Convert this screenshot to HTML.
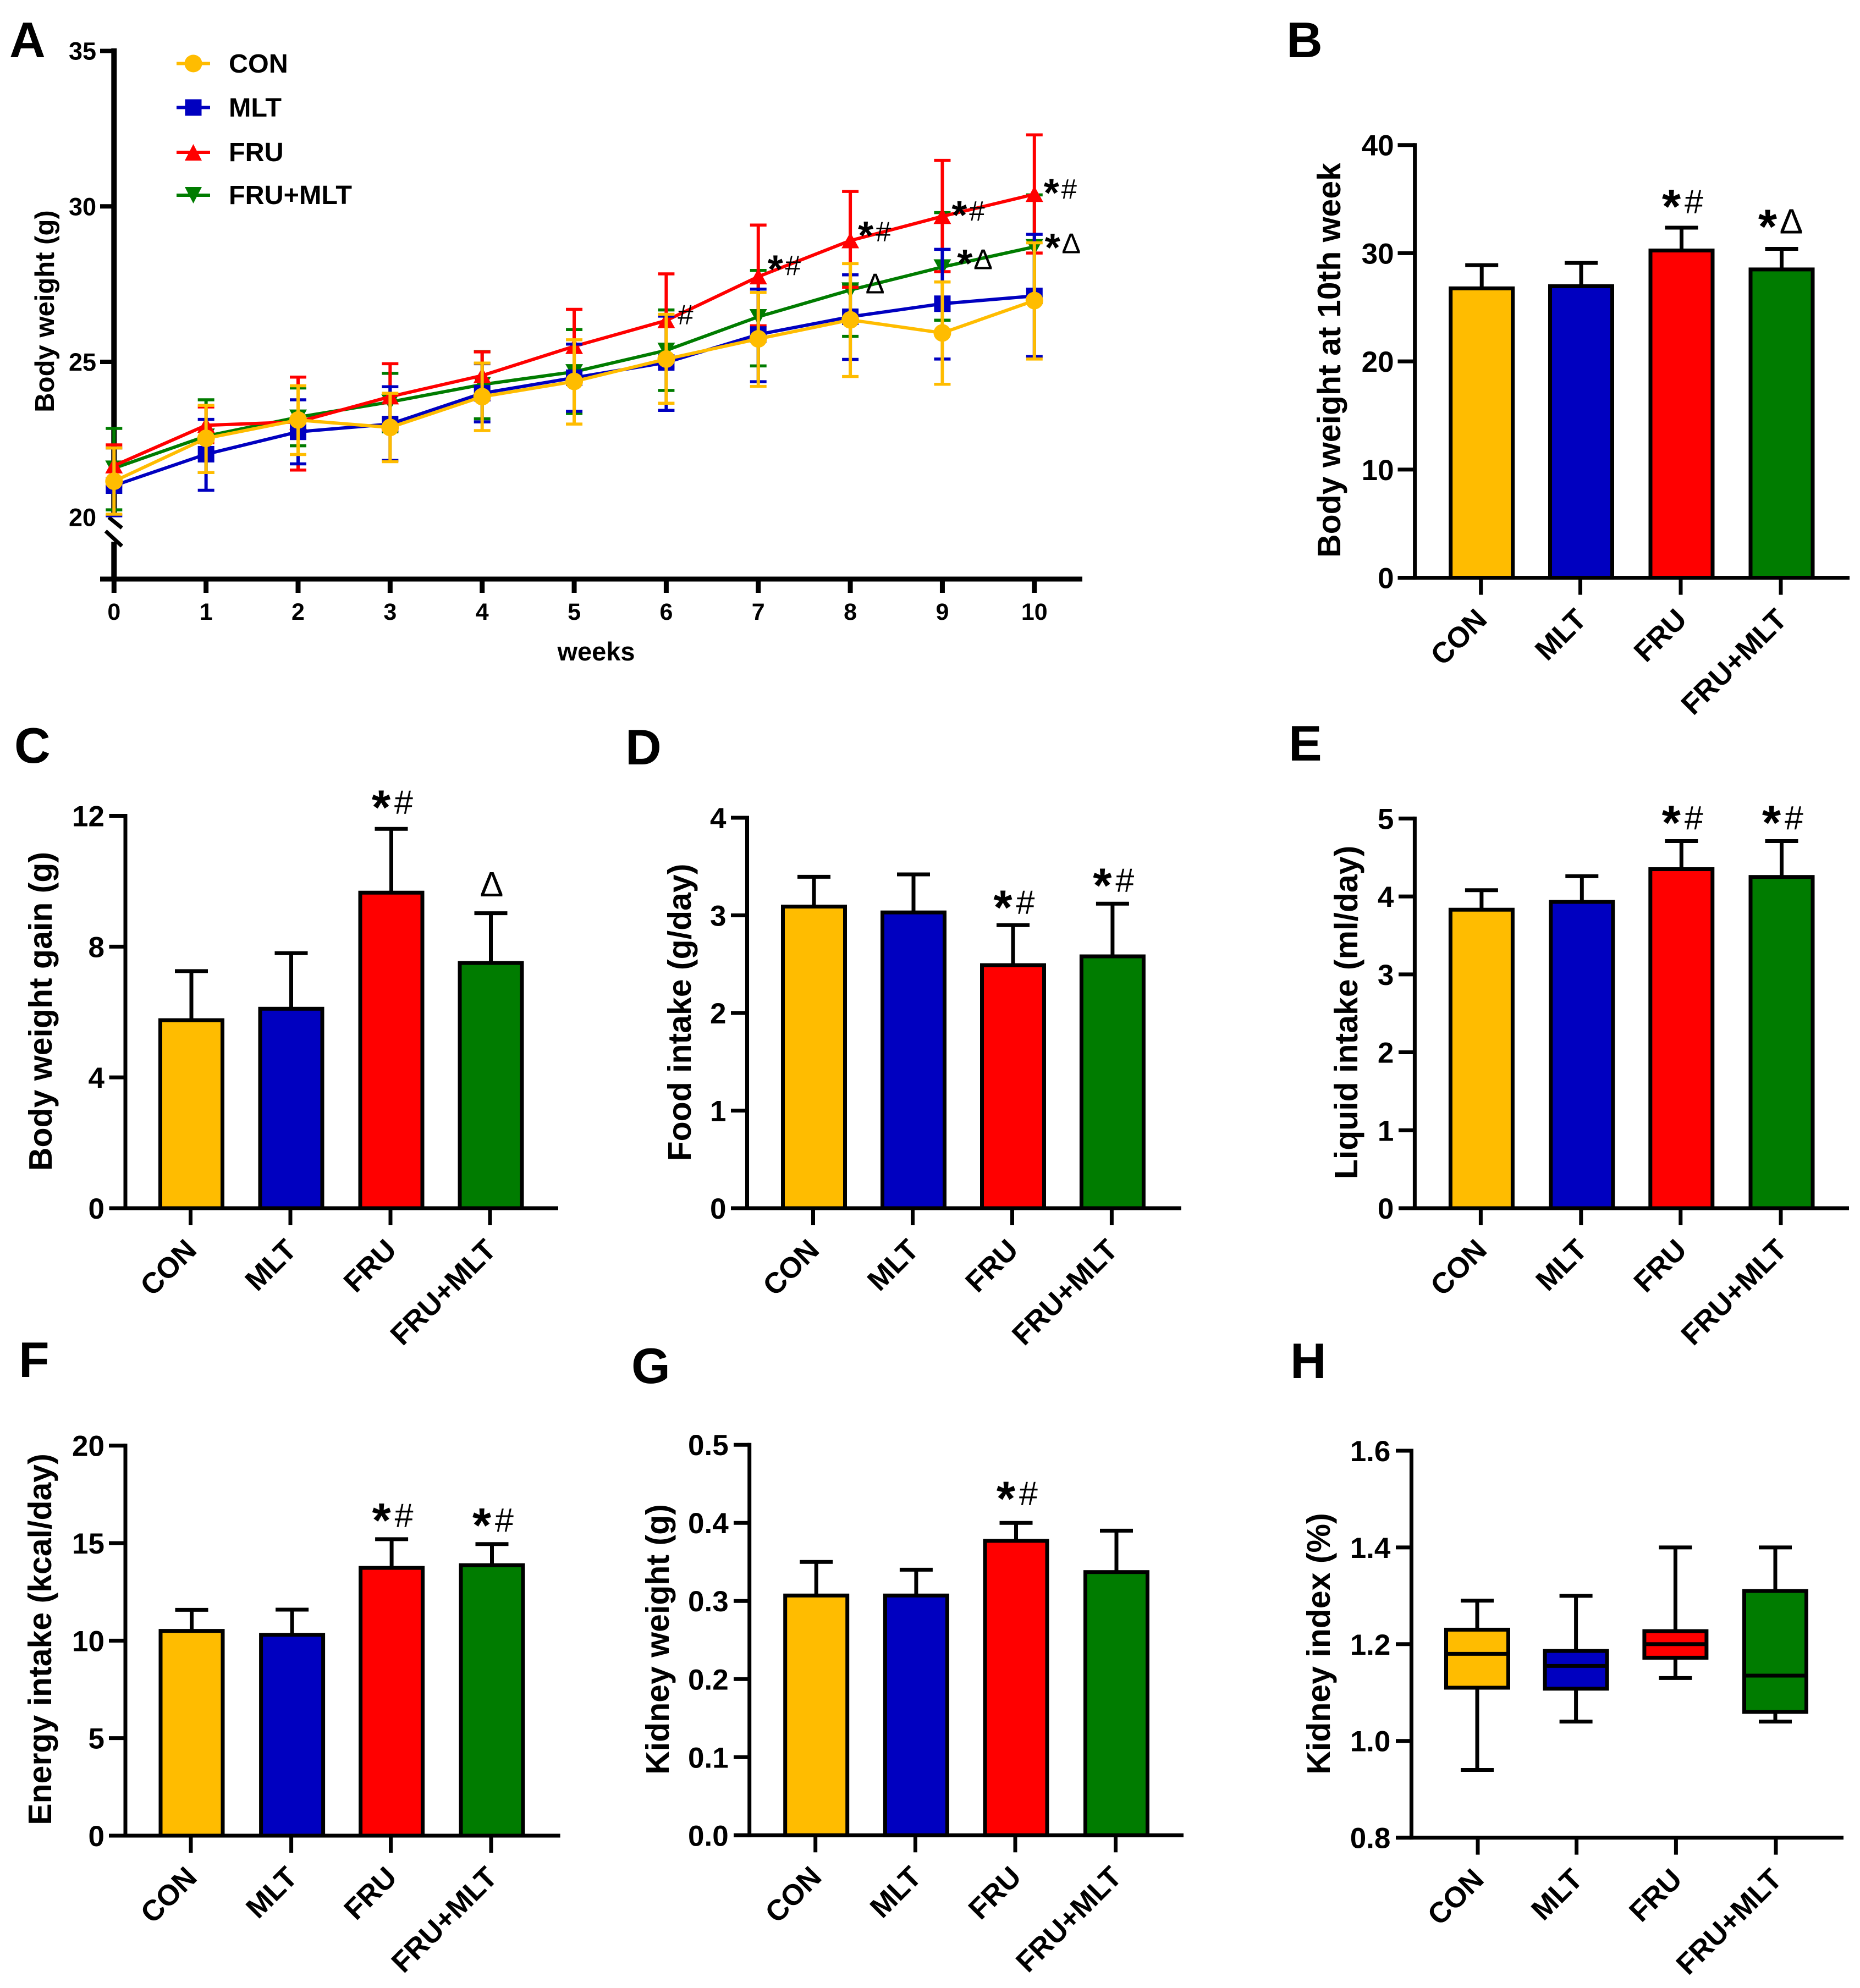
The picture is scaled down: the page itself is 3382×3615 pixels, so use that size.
<!DOCTYPE html>
<html lang="en">
<head>
<meta charset="utf-8">
<title>Body weight, intake and kidney measures by group</title>
<style>
html,body{margin:0;padding:0;background:#fff;}
svg{display:block;font-family:"Liberation Sans",Arial,sans-serif;}
.letter{font-size:91px;font-weight:700;fill:#000;}
.ytitle{font-size:59px;font-weight:700;fill:#000;text-anchor:middle;}
.atitle{font-size:49px;font-weight:700;fill:#000;text-anchor:middle;}
.xtitle{font-size:47px;font-weight:700;fill:#000;text-anchor:middle;}
.legend{font-size:48.5px;font-weight:700;fill:#000;}
</style>
</head>
<body>
<svg id="fig" xmlns="http://www.w3.org/2000/svg" width="3382" height="3615" viewBox="0 0 3382 3615">
<rect x="0" y="0" width="3382" height="3615" fill="#fff"/>
<text class="letter" x="17" y="104">A</text>
<text class="letter" x="2339" y="104">B</text>
<text class="letter" x="26" y="1387">C</text>
<text class="letter" x="1137" y="1390">D</text>
<text class="letter" x="2343" y="1383">E</text>
<text class="letter" x="34" y="2504">F</text>
<text class="letter" x="1148" y="2515">G</text>
<text class="letter" x="2346" y="2506">H</text>

<text class="atitle" transform="translate(98,566) rotate(-90)">Body weight (g)</text>
<text class="xtitle" x="1084" y="1201">weeks</text>
<text class="ytitle" transform="translate(2437,655) rotate(-90)">Body weight at 10th week</text>
<text class="ytitle" transform="translate(94,1839) rotate(-90)">Body weight gain (g)</text>
<text class="ytitle" transform="translate(1256,1841) rotate(-90)">Food intake (g/day)</text>
<text class="ytitle" transform="translate(2468,1841) rotate(-90)">Liquid intake (ml/day)</text>
<text class="ytitle" transform="translate(93,2981) rotate(-90)">Energy intake (kcal/day)</text>
<text class="ytitle" transform="translate(1216,2981) rotate(-90)">Kidney weight (g)</text>
<text class="ytitle" transform="translate(2418,2989) rotate(-90)">Kidney index (%)</text>

<g>
  <g>
    <line x1="321" x2="382" y1="115.5" y2="115.5" stroke="#FFBC00" stroke-width="6"/>
    <circle cx="351.5" cy="115.5" r="16" fill="#FFBC00"/>
    <text class="legend" x="416" y="132">CON</text>
  </g>
  <g>
    <line x1="321" x2="382" y1="195.5" y2="195.5" stroke="#0000C0" stroke-width="6"/>
    <rect x="336.5" y="180.5" width="30" height="30" fill="#0000C0"/>
    <text class="legend" x="416" y="212">MLT</text>
  </g>
  <g>
    <line x1="321" x2="382" y1="277" y2="277" stroke="#FF0000" stroke-width="6"/>
    <polygon points="351.5,262 367,292 336,292" fill="#FF0000"/>
    <text class="legend" x="416" y="293">FRU</text>
  </g>
  <g>
    <line x1="321" x2="382" y1="355" y2="355" stroke="#007C00" stroke-width="6"/>
    <polygon points="336,340 367,340 351.5,370" fill="#007C00"/>
    <text class="legend" x="416" y="371">FRU+MLT</text>
  </g>
</g>
</svg>

<script>
// ---------- shared data ----------
const categories = ['CON', 'MLT', 'FRU', 'FRU+MLT'];
const groupColors = ['#FFBC00', '#0000C0', '#FF0000', '#007C00'];

// ---------- panel A: weekly body weight ----------
const weeks = [0, 1, 2, 3, 4, 5, 6, 7, 8, 9, 10];
const aYTicks = [35, 30, 25];
const aBreakTickLabel = 20;

const conMean  = [21.16, 22.54, 23.13, 22.89, 23.88, 24.37, 25.09, 25.74, 26.35, 25.93, 26.97];
const conUpper = [22.23, 23.60, 24.23, 23.99, 24.96, 25.71, 26.53, 27.23, 28.16, 27.57, 28.83];
const conLower = [20.10, 21.44, 22.02, 21.79, 22.79, 23.00, 23.67, 24.21, 24.53, 24.28, 25.09];

const mltMean  = [21.02, 22.03, 22.75, 23.00, 23.99, 24.49, 24.98, 25.88, 26.45, 26.87, 27.12];
const mltUpper = [22.23, 23.15, 23.78, 24.20, 24.94, 25.57, 26.47, 27.34, 27.80, 28.62, 29.10];
const mltLower = [20.05, 20.87, 21.72, 21.83, 23.07, 23.41, 23.44, 24.36, 25.08, 25.09, 25.17];

const fruMean  = [21.66, 22.96, 23.07, 23.88, 24.56, 25.50, 26.33, 27.74, 28.90, 29.68, 30.39];
const fruUpper = [22.33, 23.55, 24.51, 24.94, 25.32, 26.69, 27.83, 29.40, 30.48, 31.48, 32.30];
const fruLower = [21.00, 22.40, 21.52, 22.80, 23.78, 24.30, 24.83, 26.16, 27.40, 27.90, 28.50];

const fmlMean  = [21.58, 22.61, 23.22, 23.71, 24.27, 24.68, 25.37, 26.45, 27.31, 28.05, 28.70];
const fmlUpper = [22.86, 23.78, 24.16, 24.63, 25.33, 26.04, 26.67, 27.94, 27.50, 29.80, 30.37];
const fmlLower = [20.24, 21.44, 22.30, 22.75, 23.17, 23.34, 24.08, 24.87, 25.82, 26.34, 27.03];

// significance marks beside panel A points: week, group index, label
const aMarkWeeks  = [6, 7, 8, 9, 10, 8, 9, 10];
const aMarkGroups = [2, 2, 2, 2, 2, 3, 3, 3];
const aMarkLabels = ['#', '*#', '*#', '*#', '*#', 'Δ', '*Δ', '*Δ'];

// ---------- bar panels ----------
const bTicks = [0, 10, 20, 30, 40];
const bValues = [26.75, 26.95, 30.25, 28.5];
const bErrors = [2.15, 2.15, 2.11, 1.9];
const bMarks = ['', '', '*#', '*Δ'];

const cTicks = [0, 4, 8, 12];
const cValues = [5.75, 6.1, 9.65, 7.5];
const cErrors = [1.5, 1.7, 1.95, 1.52];
const cMarks = ['', '', '*#', 'Δ'];

const dTicks = [0, 1, 2, 3, 4];
const dValues = [3.09, 3.03, 2.49, 2.58];
const dErrors = [0.305, 0.39, 0.41, 0.54];
const dMarks = ['', '', '*#', '*#'];

const eTicks = [0, 1, 2, 3, 4, 5];
const eValues = [3.83, 3.93, 4.35, 4.25];
const eErrors = [0.25, 0.33, 0.36, 0.46];
const eMarks = ['', '', '*#', '*#'];

const fTicks = [0, 5, 10, 15, 20];
const fValues = [10.5, 10.3, 13.73, 13.87];
const fErrors = [1.08, 1.29, 1.47, 1.08];
const fMarks = ['', '', '*#', '*#'];

const gTicks = ['0.0', '0.1', '0.2', '0.3', '0.4', '0.5'];
const gValues = [0.307, 0.307, 0.377, 0.337];
const gErrors = [0.043, 0.033, 0.023, 0.053];
const gMarks = ['', '', '*#', ''];

// ---------- panel H: box plot ----------
const hTicks = ['0.8', '1.0', '1.2', '1.4', '1.6'];
const hMin = [0.94, 1.04, 1.13, 1.04];
const hQ1 = [1.11, 1.108, 1.172, 1.06];
const hMedian = [1.18, 1.155, 1.2, 1.135];
const hQ3 = [1.23, 1.186, 1.227, 1.31];
const hMax = [1.29, 1.30, 1.40, 1.40];

// ---------- drawing helpers ----------
const NS = 'http://www.w3.org/2000/svg';
const root = document.getElementById('fig');

function add(parent, tag, attrs, name, text) {
  const el = document.createElementNS(NS, tag);
  for (const k in attrs) el.setAttribute(k, attrs[k]);
  
  
  if (text !== undefined) el.textContent = text;
  parent.appendChild(el);
  return el;
}

function line(parent, x1, y1, x2, y2, w, color, name) {
  return add(parent, 'line', {x1: x1, y1: y1, x2: x2, y2: y2, stroke: color, 'stroke-width': w}, name);
}

function glyphs(parent, label, xs, cy, sizes, name) {
  // sizes: star, hash, delta font-size
  const chars = Array.from(label);
  chars.forEach(function (c, i) {
    const x = xs[i];
    if (c === '*') {
      add(parent, 'text', {x: x, y: cy + 0.45 * sizes[0], 'text-anchor': 'middle', 'font-size': sizes[0], 'font-weight': 700, fill: '#000'}, name + '-star', '*');
    } else if (c === '#') {
      add(parent, 'text', {x: x, y: cy + 0.35 * sizes[1], 'text-anchor': 'middle', 'font-size': sizes[1], fill: '#000'}, name + '-hash', '#');
    } else {
      add(parent, 'text', {x: x, y: cy + 0.345 * sizes[2], 'text-anchor': 'middle', 'font-size': sizes[2], fill: '#000'}, name + '-delta', 'Δ');
    }
  });
}

function categoryAxis(g, P, centers) {
  centers.forEach(function (cx, i) {
    line(g, cx, P.y0, cx, P.y0 + 31, 7, '#000', 'x-tick-' + categories[i].toLowerCase());
    const tx = cx + 14, ty = P.y0 + 79;
    add(g, 'text', {x: tx, y: ty, transform: 'rotate(-45 ' + tx + ' ' + ty + ')', 'text-anchor': 'end', 'font-size': 53, 'font-weight': 700, fill: '#000'}, 'x-tick-label-' + categories[i].toLowerCase(), categories[i]);
  });
}

function yAxis(g, P, ticks, yOf) {
  line(g, P.ax, P.yTop - 3.5, P.ax, P.y0 + 3.5, 7, '#000', 'y-axis-line');
  line(g, P.left, P.y0, P.right, P.y0, 7, '#000', 'x-axis-line');
  ticks.forEach(function (t) {
    const y = yOf(parseFloat(t));
    line(g, P.left, y, P.ax, y, 7, '#000', 'y-tick-' + t);
    add(g, 'text', {x: P.ax - 38, y: y + 19, 'text-anchor': 'end', 'font-size': 53, 'font-weight': 700, fill: '#000'}, 'y-tick-label-' + t, String(t));
  });
}

function barPanel(id, P, ticks, values, errors, marks) {
  const g = add(root, 'g', {}, 'panel-' + id + '-bar-chart');
  const vMax = parseFloat(ticks[ticks.length - 1]);
  const yOf = function (v) { return P.y0 - (v / vMax) * (P.y0 - P.yTop); };
  values.forEach(function (v, i) {
    const cx = P.centers[i] + 1.5;
    const top = yOf(v + errors[i]);
    line(g, cx, yOf(v), cx, top, 7, '#000', 'error-stem-' + categories[i].toLowerCase());
    line(g, cx - 30, top, cx + 30, top, 7, '#000', 'error-cap-' + categories[i].toLowerCase());
    add(g, 'rect', {x: cx - 56.5, y: yOf(v), width: 113, height: P.y0 - yOf(v), fill: groupColors[i], stroke: '#000', 'stroke-width': 7}, 'bar-' + categories[i].toLowerCase());
    if (marks[i]) {
      const two = Array.from(marks[i]).length === 2;
      const xs = two
        ? (marks[i] === '*Δ' ? [P.centers[i] - 24, P.centers[i] + 19] : [P.centers[i] - 17, P.centers[i] + 24])
        : [P.centers[i] + 3];
      glyphs(g, marks[i], xs, top - P.markGap[i], [88, 61, 64], 'significance-' + categories[i].toLowerCase());
    }
  });
  yAxis(g, P, ticks, yOf);
  categoryAxis(g, P, P.centers);
}

function boxPanel(id, P) {
  const g = add(root, 'g', {}, 'panel-' + id + '-box-plot');
  const lo = parseFloat(hTicks[0]), hi = parseFloat(hTicks[hTicks.length - 1]);
  const yOf = function (v) { return P.y0 - ((v - lo) / (hi - lo)) * (P.y0 - P.yTop); };
  categories.forEach(function (c, i) {
    const cx = P.centers[i] - 1, key = c.toLowerCase();
    line(g, cx, yOf(hMin[i]), cx, yOf(hMax[i]), 7, '#000', 'whisker-' + key);
    line(g, cx - 30, yOf(hMax[i]), cx + 30, yOf(hMax[i]), 7, '#000', 'whisker-cap-max-' + key);
    line(g, cx - 30, yOf(hMin[i]), cx + 30, yOf(hMin[i]), 7, '#000', 'whisker-cap-min-' + key);
    add(g, 'rect', {x: cx - 56.5, y: yOf(hQ3[i]), width: 113, height: yOf(hQ1[i]) - yOf(hQ3[i]), fill: groupColors[i], stroke: '#000', 'stroke-width': 7}, 'box-' + key);
    line(g, cx - 56.5, yOf(hMedian[i]), cx + 56.5, yOf(hMedian[i]), 7, '#000', 'median-' + key);
  });
  yAxis(g, P, hTicks, yOf);
  categoryAxis(g, P, P.centers);
}

// ---------- panel A ----------
(function () {
  const g = add(root, 'g', {}, 'panel-a-line-chart');
  const xOf = function (w) { return 207.3 + w * 167.35; };
  const yOf = function (v) { return 940.7 - (v - 20) * 56.54; };

  // axes
  line(g, 207.3, 92.5 - 4.5, 207.3, 940, 10, '#000', 'y-axis-upper-segment');
  line(g, 207.3, 985, 207.3, 1053, 10, '#000', 'y-axis-lower-segment');
  line(g, 197.7, 940.7, 221.7, 960, 7, '#000', 'axis-break-upper');
  line(g, 192, 965.7, 221.7, 993, 7, '#000', 'axis-break-lower');
  line(g, 182, 1053, 1968, 1053, 9, '#000', 'x-axis-line');
  aYTicks.forEach(function (t) {
    line(g, 182, yOf(t), 207, yOf(t), 8, '#000', 'y-tick-' + t);
    add(g, 'text', {x: 175, y: yOf(t) + 16, 'text-anchor': 'end', 'font-size': 45, 'font-weight': 700, fill: '#000'}, 'y-tick-label-' + t, String(t));
  });
  add(g, 'text', {x: 175, y: yOf(aBreakTickLabel) + 16, 'text-anchor': 'end', 'font-size': 45, 'font-weight': 700, fill: '#000'}, 'y-tick-label-20', String(aBreakTickLabel));
  weeks.forEach(function (w) {
    line(g, xOf(w), 1053, xOf(w), 1078, 9, '#000', 'x-tick-' + w);
    add(g, 'text', {x: xOf(w), y: 1127, 'text-anchor': 'middle', 'font-size': 43, 'font-weight': 700, fill: '#000'}, 'x-tick-label-' + w, String(w));
  });

  // series back to front
  const series = [
    {key: 'fru-mlt', color: groupColors[3], mean: fmlMean, up: fmlUpper, lo: fmlLower, shape: 'down'},
    {key: 'fru', color: groupColors[2], mean: fruMean, up: fruUpper, lo: fruLower, shape: 'up'},
    {key: 'mlt', color: groupColors[1], mean: mltMean, up: mltUpper, lo: mltLower, shape: 'square'},
    {key: 'con', color: groupColors[0], mean: conMean, up: conUpper, lo: conLower, shape: 'circle'}
  ];
  series.forEach(function (s) {
    const sg = add(g, 'g', {}, 'series-' + s.key);
    weeks.forEach(function (w, i) {
      const x = xOf(w);
      line(sg, x, yOf(s.up[i]), x, yOf(s.lo[i]), 6, s.color, 'error-bar-' + s.key + '-week-' + w);
      line(sg, x - 15, yOf(s.up[i]), x + 15, yOf(s.up[i]), 5.5, s.color, 'error-cap-upper-' + s.key + '-week-' + w);
      line(sg, x - 15, yOf(s.lo[i]), x + 15, yOf(s.lo[i]), 5.5, s.color, 'error-cap-lower-' + s.key + '-week-' + w);
    });
    const pts = weeks.map(function (w, i) { return xOf(w) + ',' + yOf(s.mean[i]); }).join(' ');
    add(sg, 'polyline', {points: pts, fill: 'none', stroke: s.color, 'stroke-width': 6, 'stroke-linejoin': 'round'}, 'line-' + s.key);
    weeks.forEach(function (w, i) {
      const x = xOf(w), y = yOf(s.mean[i]);
      const nm = 'point-' + s.key + '-week-' + w;
      if (s.shape === 'circle') add(sg, 'circle', {cx: x, cy: y, r: 16, fill: s.color}, nm);
      if (s.shape === 'square') add(sg, 'rect', {x: x - 15, y: y - 15, width: 30, height: 30, fill: s.color}, nm);
      if (s.shape === 'up') add(sg, 'polygon', {points: x + ',' + (y - 15) + ' ' + (x + 16) + ',' + (y + 14) + ' ' + (x - 16) + ',' + (y + 14), fill: s.color}, nm);
      if (s.shape === 'down') add(sg, 'polygon', {points: (x - 16) + ',' + (y - 14) + ' ' + (x + 16) + ',' + (y - 14) + ' ' + x + ',' + (y + 15), fill: s.color}, nm);
    });
  });

  // significance marks
  const groupMeans = [conMean, mltMean, fruMean, fmlMean];
  aMarkWeeks.forEach(function (w, i) {
    const label = aMarkLabels[i];
    const gi = aMarkGroups[i];
    const x = xOf(w), y = yOf(groupMeans[gi][w]);
    let dx1 = 31, dx2 = 63, dy = -10;
    if (gi === 2 && w === 8) { dx1 = 28; dx2 = 60; dy = -17; }
    if (gi === 2 && w === 7) { dy = -21; }
    if (gi === 2 && w === 6) { dx1 = 35; dy = -11; }
    if (gi === 3 && w === 10) { dx1 = 33; dx2 = 67; dy = -6; }
    if (gi === 3 && w === 9) { dx1 = 41; dx2 = 74; dy = -14; }
    if (gi === 3 && w === 8) { dx1 = 45; dy = -12; }
    glyphs(g, label, [x + dx1, x + dx2], y + dy, [72, 51, 52], 'significance-week-' + w + '-' + gi);
  });
})();

// ---------- bar panels ----------
barPanel('b', {ax: 2572.6, left: 2541.5, right: 3363, y0: 1050.6, yTop: 263.7, centers: [2692.7, 2873.5, 3056, 3238], markGap: [0, 0, 48, 50]}, bTicks, bValues, bErrors, bMarks);
barPanel('c', {ax: 228, left: 198.5, right: 1015, y0: 2197, yTop: 1483.5, centers: [346.5, 528, 710, 891], markGap: [0, 0, 49, 53]}, cTicks, cValues, cErrors, cMarks);
barPanel('d', {ax: 1358.5, left: 1329, right: 2147.7, y0: 2197, yTop: 1487, centers: [1478.5, 1659.5, 1840.5, 2021.4], markGap: [0, 0, 42, 43]}, dTicks, dValues, dErrors, dMarks);
barPanel('e', {ax: 2572.4, left: 2543, right: 3362, y0: 2197, yTop: 1488.4, centers: [2692.4, 2874.8, 3055.8, 3238], markGap: [0, 0, 43, 43]}, eTicks, eValues, eErrors, eMarks);
barPanel('f', {ax: 228, left: 198, right: 1018.6, y0: 3338, yTop: 2628.7, centers: [347, 529.6, 710.6, 893], markGap: [0, 0, 44, 44]}, fTicks, fValues, fErrors, fMarks);
barPanel('g', {ax: 1362.7, left: 1334, right: 2152, y0: 3337.3, yTop: 2627.2, centers: [1482.7, 1664.4, 1846, 2028.5], markGap: [0, 0, 54, 0]}, gTicks, gValues, gErrors, gMarks);
boxPanel('h', {ax: 2566.4, left: 2538, right: 3352, y0: 3341.6, yTop: 2638, centers: [2687, 2866.6, 3047.4, 3229]});
</script>
</body>
</html>
